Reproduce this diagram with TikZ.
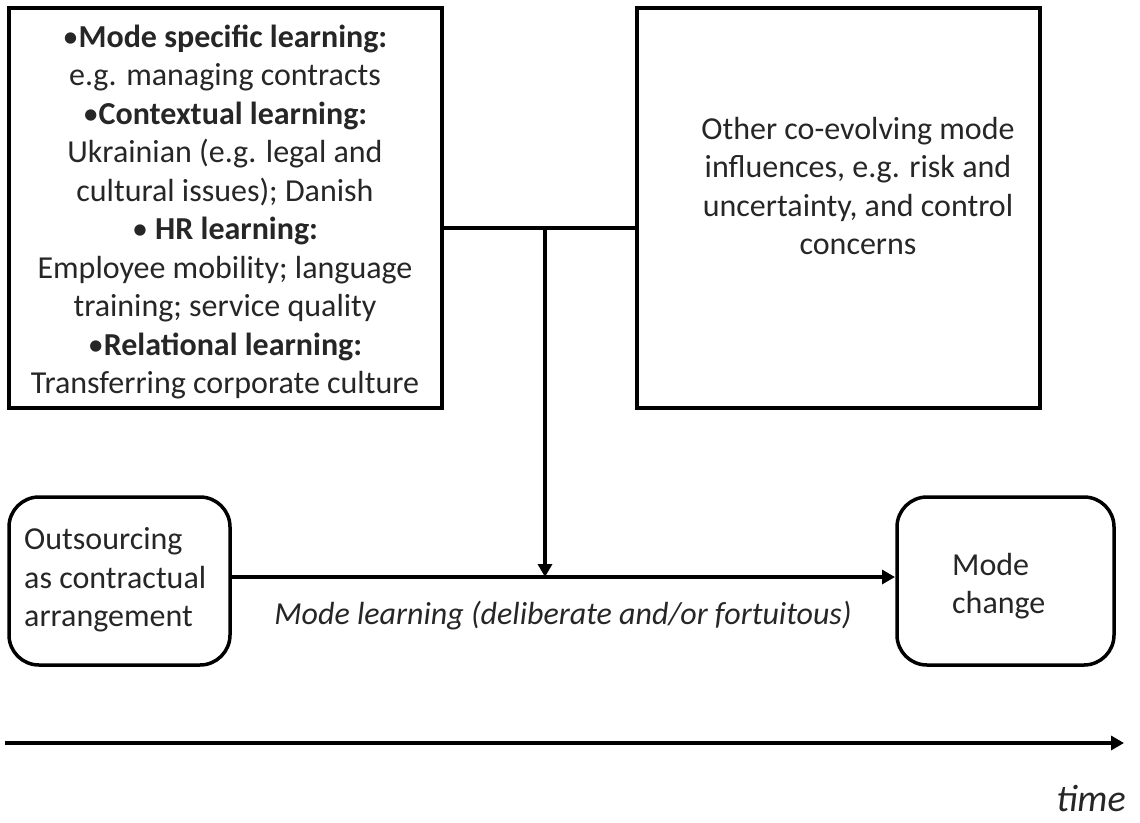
\documentclass[tikz,border=0pt]{standalone}
\usepackage{fontspec}
\setmainfont{Carlito}
\usetikzlibrary{arrows.meta}
\begin{document}
\begin{tikzpicture}[x=1pt,y=-1pt,
  txt/.style={font=\fontsize{32}{38.5}\selectfont, text=black!85, inner sep=0pt},
  sqbox/.style={draw, line width=3.8pt},
  rbox/.style={draw, line width=3.5pt, rounded corners=30pt},
  conn/.style={line width=3.3pt},
  arr/.style={line width=3.3pt, -{Triangle[length=13pt,width=14pt]}}]
\useasboundingbox (0,0) rectangle (1140,822);
% boxes
\draw[sqbox] (9,8) rectangle (442,408);
\coordinate (L) at (442,228);
\draw[sqbox] (637,8) rectangle (1040,408);
\coordinate (R) at (637,228);
\node[txt, align=center] (lt) at (225,212) {%
  •\textbf{Mode specific learning:}\\
  e.g. managing contracts\\
  •\textbf{Contextual learning:}\\
  Ukrainian (e.g. legal and\\
  cultural issues); Danish\\
  • \textbf{HR learning:}\\
  Employee mobility; language\\
  training; service quality\\
  •\textbf{Relational learning:}\\
  Transferring corporate culture};
\node[txt, align=center] (rt) at (858,186) {%
  Other co-evolving mode\\
  influences, e.g. risk and\\
  uncertainty, and control\\
  concerns};
% bottom boxes
\draw[rbox] (9,497) rectangle (230,665);
\coordinate (O) at (230,577);
\node[txt, align=left, anchor=west] (ot) at (24,580) {Outsourcing\\as contractual\\arrangement};
\draw[rbox] (897,497) rectangle (1114,665);
\coordinate (M) at (895,577);
\node[txt, align=left, anchor=west] (mt) at (952,586) {Mode\\change};
% connectors
\coordinate (J) at (545,228);
\coordinate (Jb) at (545,577);
\draw[conn] (L) -- (R);
\draw[arr] (J) -- (Jb);
\draw[arr] (O) -- (M);
\node[txt, font=\fontsize{32}{38.5}\selectfont\itshape] (ml) at (563,616) {Mode learning (deliberate and/or fortuitous)};
% time axis
\coordinate (T0) at (5,743);
\coordinate (T1) at (1124,743);
\draw[arr] (T0) -- (T1);
\node[txt, font=\fontsize{38}{42}\selectfont\itshape] (tm) at (1091,798) {time};
\end{tikzpicture}
\end{document}
